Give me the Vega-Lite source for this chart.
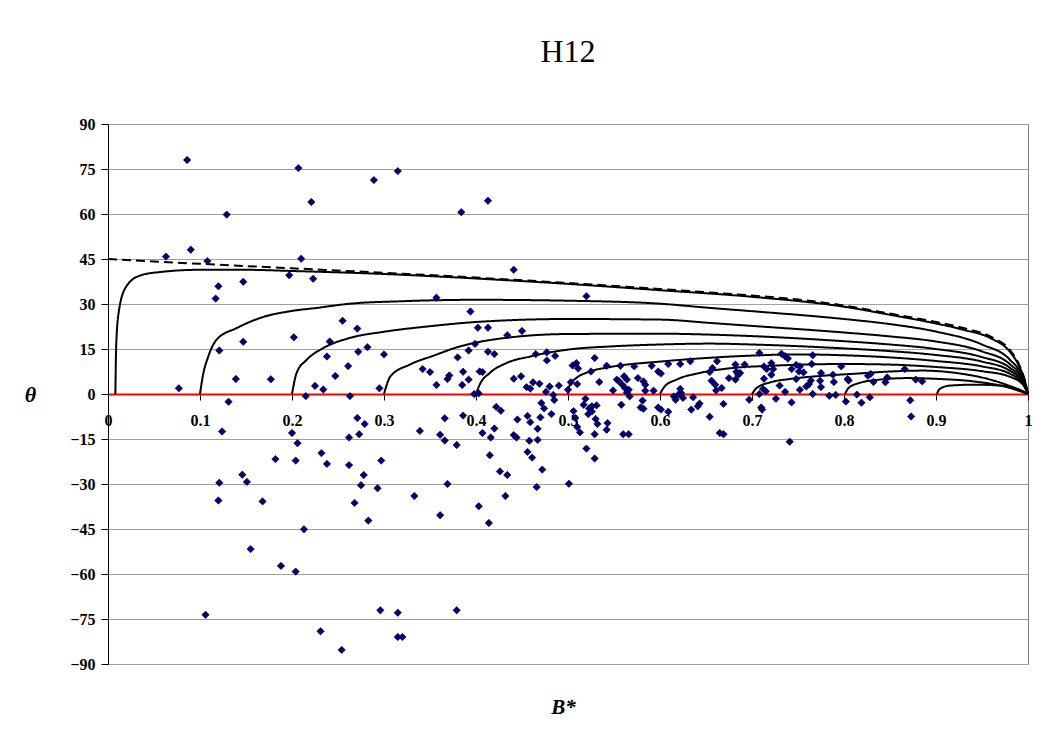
{
  "$schema": "https://vega.github.io/schema/vega-lite/v6.json",
  "autosize": "none",
  "width": 920,
  "height": 540,
  "padding": {"left": 108, "top": 124, "right": 18, "bottom": 74},
  "background": "white",
  "config": {
    "font": "Liberation Serif",
    "view": {"stroke": "#808080", "strokeWidth": 1}
  },
  "title": {
    "text": "H12",
    "font": "Liberation Serif",
    "fontSize": 32,
    "fontWeight": "normal",
    "color": "black",
    "anchor": "middle",
    "baseline": "alphabetic",
    "offset": 22
  },
  "datasets": {
    "pts": [
{"b":0.063,"t":45.8},{"b":0.086,"t":78.0},{"b":0.090,"t":48.1},{"b":0.108,"t":44.3},{"b":0.077,"t":1.9},{"b":0.129,"t":59.8},{"b":0.120,"t":35.9},{"b":0.117,"t":31.8},{"b":0.147,"t":37.4},{"b":0.121,"t":14.5},{"b":0.147,"t":17.4},{"b":0.139,"t":5.0},{"b":0.131,"t":-2.6},{"b":0.177,"t":4.9},{"b":0.207,"t":75.3},{"b":0.221,"t":64.0},{"b":0.210,"t":45.1},{"b":0.197,"t":39.6},{"b":0.223,"t":38.4},{"b":0.202,"t":18.9},{"b":0.289,"t":71.3},{"b":0.315,"t":74.3},{"b":0.255,"t":24.4},{"b":0.271,"t":21.8},{"b":0.241,"t":17.5},{"b":0.282,"t":15.6},{"b":0.272,"t":14.1},{"b":0.238,"t":12.5},{"b":0.300,"t":13.2},{"b":0.261,"t":9.3},{"b":0.247,"t":6.0},{"b":0.225,"t":2.7},{"b":0.234,"t":1.5},{"b":0.295,"t":1.9},{"b":0.215,"t":-0.7},{"b":0.263,"t":-0.7},
{"b":0.124,"t":-12.5},{"b":0.121,"t":-29.6},{"b":0.120,"t":-35.5},{"b":0.146,"t":-26.9},{"b":0.151,"t":-29.3},{"b":0.168,"t":-35.8},{"b":0.155,"t":-51.7},{"b":0.106,"t":-73.6},{"b":0.182,"t":-21.7},{"b":0.188,"t":-57.3},{"b":0.200,"t":-13.0},{"b":0.206,"t":-16.4},{"b":0.204,"t":-22.2},{"b":0.213,"t":-45.1},{"b":0.204,"t":-59.2},{"b":0.232,"t":-19.7},{"b":0.238,"t":-23.3},{"b":0.231,"t":-79.1},{"b":0.254,"t":-85.3},{"b":0.271,"t":-8.0},{"b":0.279,"t":-10.0},{"b":0.262,"t":-14.5},{"b":0.273,"t":-13.4},{"b":0.262,"t":-23.7},{"b":0.278,"t":-27.0},{"b":0.275,"t":-30.4},{"b":0.268,"t":-36.3},{"b":0.283,"t":-42.2},{"b":0.297,"t":-22.2},{"b":0.293,"t":-31.4},{"b":0.296,"t":-72.1},{"b":0.315,"t":-72.9},{"b":0.315,"t":-81.0},{"b":0.320,"t":-81.0},{"b":0.339,"t":-12.3},{"b":0.333,"t":-34.0},{"b":0.361,"t":-13.6},{"b":0.366,"t":-15.5},{"b":0.366,"t":-8.1},{"b":0.369,"t":-30.0},{"b":0.361,"t":-40.4},{"b":0.379,"t":-17.0},{"b":0.386,"t":-7.2},{"b":0.407,"t":-13.0},{"b":0.416,"t":-14.5},{"b":0.420,"t":-11.5},{"b":0.415,"t":-20.4},{"b":0.403,"t":-37.4},{"b":0.414,"t":-43.0},{"b":0.426,"t":-25.8},{"b":0.434,"t":-27.0},{"b":0.432,"t":-34.0},{"b":0.445,"t":-8.5},{"b":0.441,"t":-13.7},{"b":0.444,"t":-14.5},{"b":0.456,"t":-7.3},{"b":0.459,"t":-9.4},{"b":0.470,"t":-7.8},{"b":0.467,"t":-11.6},{"b":0.458,"t":-15.6},{"b":0.467,"t":-15.3},{"b":0.456,"t":-19.3},{"b":0.461,"t":-21.2},{"b":0.472,"t":-25.2},{"b":0.466,"t":-31.0},{"b":0.482,"t":-6.7},{"b":0.501,"t":-29.9},{"b":0.506,"t":-5.7},{"b":0.508,"t":-8.0},{"b":0.510,"t":-11.0},{"b":0.513,"t":-12.8},{"b":0.522,"t":-6.7},{"b":0.530,"t":-8.3},{"b":0.532,"t":-10.0},{"b":0.529,"t":-13.4},{"b":0.520,"t":-18.2},{"b":0.529,"t":-21.5},{"b":0.560,"t":-13.4},{"b":0.566,"t":-13.4},{"b":0.598,"t":-4.5},{"b":0.601,"t":-5.2},{"b":0.609,"t":-5.9},{"b":0.634,"t":-5.2},{"b":0.654,"t":-7.6},{"b":0.379,"t":-72.1},
{"b":0.384,"t":60.6},{"b":0.413,"t":64.4},{"b":0.441,"t":41.4},{"b":0.357,"t":32.1},{"b":0.520,"t":32.6},{"b":0.394,"t":27.5},{"b":0.402,"t":22.1},{"b":0.413,"t":22.1},{"b":0.434,"t":19.6},{"b":0.450,"t":21.0},{"b":0.399,"t":16.7},{"b":0.392,"t":14.5},{"b":0.380,"t":12.2},{"b":0.413,"t":14.1},{"b":0.420,"t":13.3},{"b":0.342,"t":8.3},{"b":0.350,"t":7.3},{"b":0.371,"t":6.2},{"b":0.369,"t":5.0},{"b":0.357,"t":3.0},{"b":0.386,"t":7.4},{"b":0.392,"t":4.8},{"b":0.385,"t":3.0},{"b":0.404,"t":7.5},{"b":0.407,"t":7.3},{"b":0.398,"t":0.0},{"b":0.403,"t":0.2},{"b":0.465,"t":13.3},{"b":0.477,"t":13.9},{"b":0.477,"t":11.2},{"b":0.486,"t":12.7},{"b":0.441,"t":5.1},{"b":0.449,"t":5.9},{"b":0.455,"t":2.3},{"b":0.459,"t":1.8},{"b":0.462,"t":3.9},{"b":0.469,"t":3.4},{"b":0.480,"t":2.5},{"b":0.490,"t":2.8},{"b":0.476,"t":0.7},{"b":0.484,"t":-0.3},{"b":0.485,"t":-2.0},{"b":0.422,"t":-4.3},{"b":0.427,"t":-5.6},{"b":0.471,"t":-3.0},{"b":0.474,"t":-4.8},
{"b":0.505,"t":9.5},{"b":0.509,"t":10.3},{"b":0.511,"t":8.5},{"b":0.529,"t":12.0},{"b":0.525,"t":7.5},{"b":0.542,"t":9.4},{"b":0.534,"t":4.0},{"b":0.503,"t":3.9},{"b":0.500,"t":1.4},{"b":0.510,"t":3.3},{"b":0.519,"t":-1.6},{"b":0.517,"t":-3.6},{"b":0.523,"t":-4.8},{"b":0.526,"t":-4.1},{"b":0.531,"t":-3.8},{"b":0.526,"t":-5.8},{"b":0.543,"t":-9.7},{"b":0.542,"t":-11.9},
{"b":0.557,"t":9.4},{"b":0.572,"t":9.2},{"b":0.591,"t":9.4},{"b":0.609,"t":10.0},{"b":0.622,"t":10.0},{"b":0.633,"t":10.9},{"b":0.598,"t":7.5},{"b":0.601,"t":6.8},{"b":0.662,"t":10.9},{"b":0.682,"t":9.8},{"b":0.692,"t":9.8},{"b":0.708,"t":13.7},{"b":0.654,"t":7.3},{"b":0.657,"t":8.7},{"b":0.683,"t":7.4},{"b":0.685,"t":6.4},{"b":0.687,"t":7.0},{"b":0.682,"t":4.8},{"b":0.675,"t":5.3},{"b":0.716,"t":8.3},{"b":0.713,"t":9.2},
{"b":0.553,"t":4.8},{"b":0.555,"t":4.4},{"b":0.561,"t":5.9},{"b":0.564,"t":4.8},{"b":0.559,"t":3.1},{"b":0.562,"t":2.0},{"b":0.566,"t":1.4},{"b":0.567,"t":-0.8},{"b":0.564,"t":0.5},{"b":0.549,"t":1.2},{"b":0.576,"t":5.3},{"b":0.582,"t":4.2},{"b":0.584,"t":3.1},{"b":0.584,"t":1.1},{"b":0.593,"t":1.1},{"b":0.581,"t":-2.2},{"b":0.579,"t":-4.5},{"b":0.582,"t":-4.9},{"b":0.558,"t":-3.6},{"b":0.615,"t":-0.8},{"b":0.617,"t":-1.9},{"b":0.622,"t":1.7},{"b":0.623,"t":0.3},{"b":0.620,"t":-0.2},{"b":0.625,"t":-1.3},{"b":0.636,"t":-1.1},{"b":0.643,"t":-3.2},{"b":0.641,"t":-4.1},{"b":0.656,"t":4.4},{"b":0.660,"t":3.1},{"b":0.661,"t":1.2},{"b":0.667,"t":2.0},{"b":0.669,"t":-3.3},{"b":0.697,"t":-1.9},{"b":0.708,"t":0.0},{"b":0.712,"t":1.7},{"b":0.715,"t":0.9},{"b":0.710,"t":-4.5},{"b":0.711,"t":-5.2},{"b":0.665,"t":-13.0},{"b":0.669,"t":-13.4},
{"b":0.732,"t":13.4},{"b":0.736,"t":12.6},{"b":0.739,"t":11.8},{"b":0.766,"t":12.9},{"b":0.721,"t":10.3},{"b":0.723,"t":8.3},{"b":0.721,"t":6.4},{"b":0.713,"t":5.1},{"b":0.743,"t":8.3},{"b":0.748,"t":9.7},{"b":0.752,"t":9.2},{"b":0.751,"t":7.5},{"b":0.756,"t":7.2},{"b":0.748,"t":5.0},{"b":0.765,"t":10.0},{"b":0.775,"t":7.0},{"b":0.764,"t":4.5},{"b":0.762,"t":3.3},{"b":0.759,"t":2.5},{"b":0.797,"t":9.2},{"b":0.788,"t":6.4},{"b":0.789,"t":4.0},{"b":0.804,"t":5.0},{"b":0.805,"t":4.5},{"b":0.774,"t":4.4},{"b":0.775,"t":2.3},{"b":0.752,"t":1.4},{"b":0.766,"t":0.0},{"b":0.730,"t":2.8},{"b":0.736,"t":0.7},{"b":0.726,"t":-1.6},{"b":0.743,"t":-2.8},{"b":0.784,"t":-0.6},{"b":0.791,"t":-0.3},{"b":0.802,"t":-2.5},{"b":0.814,"t":-0.2},{"b":0.819,"t":-2.9},{"b":0.828,"t":-1.1},{"b":0.826,"t":6.1},{"b":0.829,"t":6.7},{"b":0.832,"t":4.0},{"b":0.845,"t":3.9},{"b":0.847,"t":5.5},{"b":0.866,"t":8.3},{"b":0.878,"t":4.8},{"b":0.885,"t":4.2},{"b":0.872,"t":-2.1},{"b":0.873,"t":-7.5},{"b":0.741,"t":-15.9}
    ],
    "curves": [
{"c":"d","k":"dashed","b":0,"t":45},{"c":"d","k":"dashed","b":0.1,"t":43.4},{"c":"d","k":"dashed","b":0.2,"t":41.9},{"c":"d","k":"dashed","b":0.3,"t":40.4},{"c":"d","k":"dashed","b":0.4,"t":38.8},{"c":"d","k":"dashed","b":0.5,"t":37.0},{"c":"d","k":"dashed","b":0.6,"t":35.0},{"c":"d","k":"dashed","b":0.7,"t":32.8},{"c":"d","k":"dashed","b":0.75,"t":31.5},{"c":"d","k":"dashed","b":0.8,"t":29.5},{"c":"d","k":"dashed","b":0.85,"t":26.8},{"c":"d","k":"dashed","b":0.9,"t":24.0},{"c":"d","k":"dashed","b":0.93,"t":22.0},{"c":"d","k":"dashed","b":0.96,"t":19.0},{"c":"d","k":"dashed","b":0.98,"t":14.8},{"c":"d","k":"dashed","b":0.99,"t":10.0},{"c":"d","k":"dashed","b":0.997,"t":4.0},{"c":"d","k":"dashed","b":1,"t":0},
{"c":"a0","k":"solid","b":0.008,"t":0},{"c":"a0","k":"solid","b":0.009,"t":17},{"c":"a0","k":"solid","b":0.012,"t":28},{"c":"a0","k":"solid","b":0.02,"t":35.9},{"c":"a0","k":"solid","b":0.035,"t":39.5},{"c":"a0","k":"solid","b":0.055,"t":40.6},{"c":"a0","k":"solid","b":0.1,"t":41.4},{"c":"a0","k":"solid","b":0.15,"t":41.4},{"c":"a0","k":"solid","b":0.2,"t":41.0},{"c":"a0","k":"solid","b":0.3,"t":40.0},{"c":"a0","k":"solid","b":0.4,"t":38.5},{"c":"a0","k":"solid","b":0.5,"t":36.7},{"c":"a0","k":"solid","b":0.6,"t":34.6},{"c":"a0","k":"solid","b":0.7,"t":32.4},{"c":"a0","k":"solid","b":0.8,"t":29.1},{"c":"a0","k":"solid","b":0.85,"t":26.4},{"c":"a0","k":"solid","b":0.9,"t":23.5},{"c":"a0","k":"solid","b":0.93,"t":21.4},{"c":"a0","k":"solid","b":0.96,"t":18.5},{"c":"a0","k":"solid","b":0.98,"t":14.2},{"c":"a0","k":"solid","b":0.99,"t":9.5},{"c":"a0","k":"solid","b":0.997,"t":4},{"c":"a0","k":"solid","b":1,"t":0},
{"c":"a1","k":"solid","b":0.1,"t":0},{"c":"a1","k":"solid","b":0.103,"t":5.9},{"c":"a1","k":"solid","b":0.109,"t":12.5},{"c":"a1","k":"solid","b":0.118,"t":18.1},{"c":"a1","k":"solid","b":0.14,"t":22.0},{"c":"a1","k":"solid","b":0.169,"t":25.7},{"c":"a1","k":"solid","b":0.198,"t":27.6},{"c":"a1","k":"solid","b":0.227,"t":28.7},{"c":"a1","k":"solid","b":0.263,"t":30.1},{"c":"a1","k":"solid","b":0.317,"t":30.9},{"c":"a1","k":"solid","b":0.4,"t":31.4},{"c":"a1","k":"solid","b":0.5,"t":31.1},{"c":"a1","k":"solid","b":0.6,"t":30.1},{"c":"a1","k":"solid","b":0.654,"t":28.7},{"c":"a1","k":"solid","b":0.7,"t":27.6},{"c":"a1","k":"solid","b":0.8,"t":25.0},{"c":"a1","k":"solid","b":0.85,"t":23.3},{"c":"a1","k":"solid","b":0.9,"t":20.8},{"c":"a1","k":"solid","b":0.95,"t":16.5},{"c":"a1","k":"solid","b":0.98,"t":11.5},{"c":"a1","k":"solid","b":0.995,"t":5},{"c":"a1","k":"solid","b":1,"t":0},
{"c":"a2","k":"solid","b":0.2,"t":0},{"c":"a2","k":"solid","b":0.205,"t":7.0},{"c":"a2","k":"solid","b":0.216,"t":11.4},{"c":"a2","k":"solid","b":0.234,"t":15.3},{"c":"a2","k":"solid","b":0.263,"t":18.7},{"c":"a2","k":"solid","b":0.299,"t":20.7},{"c":"a2","k":"solid","b":0.35,"t":22.6},{"c":"a2","k":"solid","b":0.4,"t":24.0},{"c":"a2","k":"solid","b":0.5,"t":25.0},{"c":"a2","k":"solid","b":0.6,"t":24.8},{"c":"a2","k":"solid","b":0.654,"t":23.7},{"c":"a2","k":"solid","b":0.7,"t":22.7},{"c":"a2","k":"solid","b":0.8,"t":20.5},{"c":"a2","k":"solid","b":0.85,"t":19.2},{"c":"a2","k":"solid","b":0.9,"t":17.5},{"c":"a2","k":"solid","b":0.95,"t":14.2},{"c":"a2","k":"solid","b":0.98,"t":10.0},{"c":"a2","k":"solid","b":0.995,"t":4.5},{"c":"a2","k":"solid","b":1,"t":0},
{"c":"a3","k":"solid","b":0.3,"t":0},{"c":"a3","k":"solid","b":0.307,"t":5.9},{"c":"a3","k":"solid","b":0.328,"t":9.8},{"c":"a3","k":"solid","b":0.354,"t":12.8},{"c":"a3","k":"solid","b":0.383,"t":15.9},{"c":"a3","k":"solid","b":0.401,"t":17.2},{"c":"a3","k":"solid","b":0.441,"t":19.0},{"c":"a3","k":"solid","b":0.5,"t":20.0},{"c":"a3","k":"solid","b":0.6,"t":20.1},{"c":"a3","k":"solid","b":0.654,"t":19.8},{"c":"a3","k":"solid","b":0.7,"t":19.3},{"c":"a3","k":"solid","b":0.8,"t":17.6},{"c":"a3","k":"solid","b":0.85,"t":16.5},{"c":"a3","k":"solid","b":0.9,"t":15.0},{"c":"a3","k":"solid","b":0.95,"t":12.3},{"c":"a3","k":"solid","b":0.98,"t":8.8},{"c":"a3","k":"solid","b":0.995,"t":4},{"c":"a3","k":"solid","b":1,"t":0},
{"c":"a4","k":"solid","b":0.4,"t":0},{"c":"a4","k":"solid","b":0.404,"t":3.1},{"c":"a4","k":"solid","b":0.415,"t":7.0},{"c":"a4","k":"solid","b":0.433,"t":10.3},{"c":"a4","k":"solid","b":0.459,"t":12.5},{"c":"a4","k":"solid","b":0.5,"t":14.8},{"c":"a4","k":"solid","b":0.549,"t":15.9},{"c":"a4","k":"solid","b":0.6,"t":16.5},{"c":"a4","k":"solid","b":0.654,"t":16.8},{"c":"a4","k":"solid","b":0.7,"t":16.5},{"c":"a4","k":"solid","b":0.8,"t":15.2},{"c":"a4","k":"solid","b":0.85,"t":14.3},{"c":"a4","k":"solid","b":0.9,"t":13.0},{"c":"a4","k":"solid","b":0.95,"t":10.8},{"c":"a4","k":"solid","b":0.98,"t":7.8},{"c":"a4","k":"solid","b":0.995,"t":3.7},{"c":"a4","k":"solid","b":1,"t":0},
{"c":"a5","k":"solid","b":0.5,"t":0},{"c":"a5","k":"solid","b":0.502,"t":3.1},{"c":"a5","k":"solid","b":0.509,"t":5.3},{"c":"a5","k":"solid","b":0.524,"t":7.5},{"c":"a5","k":"solid","b":0.546,"t":9.0},{"c":"a5","k":"solid","b":0.6,"t":10.8},{"c":"a5","k":"solid","b":0.65,"t":12.0},{"c":"a5","k":"solid","b":0.7,"t":12.8},{"c":"a5","k":"solid","b":0.75,"t":13.2},{"c":"a5","k":"solid","b":0.8,"t":12.9},{"c":"a5","k":"solid","b":0.85,"t":12.2},{"c":"a5","k":"solid","b":0.9,"t":11.0},{"c":"a5","k":"solid","b":0.95,"t":9.2},{"c":"a5","k":"solid","b":0.98,"t":6.8},{"c":"a5","k":"solid","b":0.995,"t":3.3},{"c":"a5","k":"solid","b":1,"t":0},
{"c":"a6","k":"solid","b":0.6,"t":0},{"c":"a6","k":"solid","b":0.605,"t":2.5},{"c":"a6","k":"solid","b":0.618,"t":4.8},{"c":"a6","k":"solid","b":0.643,"t":7.0},{"c":"a6","k":"solid","b":0.68,"t":8.7},{"c":"a6","k":"solid","b":0.72,"t":9.4},{"c":"a6","k":"solid","b":0.8,"t":10.0},{"c":"a6","k":"solid","b":0.85,"t":9.8},{"c":"a6","k":"solid","b":0.9,"t":9.0},{"c":"a6","k":"solid","b":0.95,"t":7.6},{"c":"a6","k":"solid","b":0.98,"t":5.8},{"c":"a6","k":"solid","b":0.995,"t":2.9},{"c":"a6","k":"solid","b":1,"t":0},
{"c":"a7","k":"solid","b":0.7,"t":0},{"c":"a7","k":"solid","b":0.705,"t":2.0},{"c":"a7","k":"solid","b":0.72,"t":3.9},{"c":"a7","k":"solid","b":0.741,"t":5.0},{"c":"a7","k":"solid","b":0.778,"t":6.1},{"c":"a7","k":"solid","b":0.814,"t":6.8},{"c":"a7","k":"solid","b":0.85,"t":7.5},{"c":"a7","k":"solid","b":0.886,"t":7.8},{"c":"a7","k":"solid","b":0.922,"t":7.0},{"c":"a7","k":"solid","b":0.959,"t":4.8},{"c":"a7","k":"solid","b":0.988,"t":1.7},{"c":"a7","k":"solid","b":1,"t":0},
{"c":"a8","k":"solid","b":0.801,"t":0},{"c":"a8","k":"solid","b":0.805,"t":2.0},{"c":"a8","k":"solid","b":0.817,"t":3.7},{"c":"a8","k":"solid","b":0.839,"t":4.8},{"c":"a8","k":"solid","b":0.868,"t":5.3},{"c":"a8","k":"solid","b":0.904,"t":5.0},{"c":"a8","k":"solid","b":0.941,"t":4.2},{"c":"a8","k":"solid","b":0.977,"t":2.3},{"c":"a8","k":"solid","b":1,"t":0},
{"c":"a9","k":"solid","b":0.901,"t":0},{"c":"a9","k":"solid","b":0.904,"t":1.7},{"c":"a9","k":"solid","b":0.915,"t":2.8},{"c":"a9","k":"solid","b":0.941,"t":3.1},{"c":"a9","k":"solid","b":0.97,"t":2.8},{"c":"a9","k":"solid","b":0.991,"t":1.4},{"c":"a9","k":"solid","b":1,"t":0}
    ]
  },
  "layer": [
    {
      "data": {"name": "curves"},
      "mark": {"type": "line", "color": "black", "strokeWidth": 2, "interpolate": "monotone"},
      "encoding": {
        "x": {
          "field": "b", "type": "quantitative",
          "scale": {"domain": [0, 1], "nice": false, "zero": false},
          "axis": {
            "title": "B*",
            "titleFont": "Liberation Serif", "titleFontSize": 21, "titleFontWeight": "bold", "titleFontStyle": "italic", "titleColor": "black",
            "titleX": 455, "titleY": 313, "titleAnchor": "middle", "titleBaseline": "middle", "titleAlign": "center",
            "values": [0, 0.1, 0.2, 0.3, 0.4, 0.5, 0.6, 0.7, 0.8, 0.9, 1],
            "format": "~g",
            "offset": -270,
            "grid": false,
            "domainColor": "#ff0000", "domainWidth": 2,
            "tickColor": "black", "tickSize": 6, "tickWidth": 1,
            "labelFont": "Liberation Serif", "labelFontSize": 16, "labelFontWeight": "bold", "labelColor": "black",
            "labelPadding": 12, "labelFlush": false, "labelOverlap": false
          }
        },
        "y": {
          "field": "t", "type": "quantitative",
          "scale": {"domain": [-90, 90], "nice": false},
          "axis": {
            "title": "θ",
            "titleFont": "Liberation Serif", "titleFontSize": 22, "titleFontWeight": "bold", "titleFontStyle": "italic", "titleColor": "black",
            "titleAngle": 0, "titleX": -78, "titleY": 270, "titleAlign": "center", "titleBaseline": "middle",
            "values": [-90, -75, -60, -45, -30, -15, 0, 15, 30, 45, 60, 75, 90],
            "grid": true, "gridColor": "#a0a0a0", "gridWidth": 1,
            "domainColor": "black", "domainWidth": 1,
            "tickColor": "black", "tickSize": 7,
            "labelFont": "Liberation Serif", "labelFontSize": 16, "labelFontWeight": "bold", "labelColor": "black",
            "labelPadding": 6, "labelOverlap": false
          }
        },
        "detail": {"field": "c", "type": "nominal"},
        "strokeDash": {
          "field": "k", "type": "nominal",
          "scale": {"domain": ["solid", "dashed"], "range": [[1, 0], [9, 5]]},
          "legend": null
        }
      }
    },
    {
      "data": {"name": "pts"},
      "mark": {"type": "point", "shape": "diamond", "filled": true, "fill": "#000080", "stroke": "black", "strokeWidth": 0.6, "size": 55, "opacity": 1},
      "encoding": {
        "x": {"field": "b", "type": "quantitative"},
        "y": {"field": "t", "type": "quantitative"}
      }
    }
  ]
}
